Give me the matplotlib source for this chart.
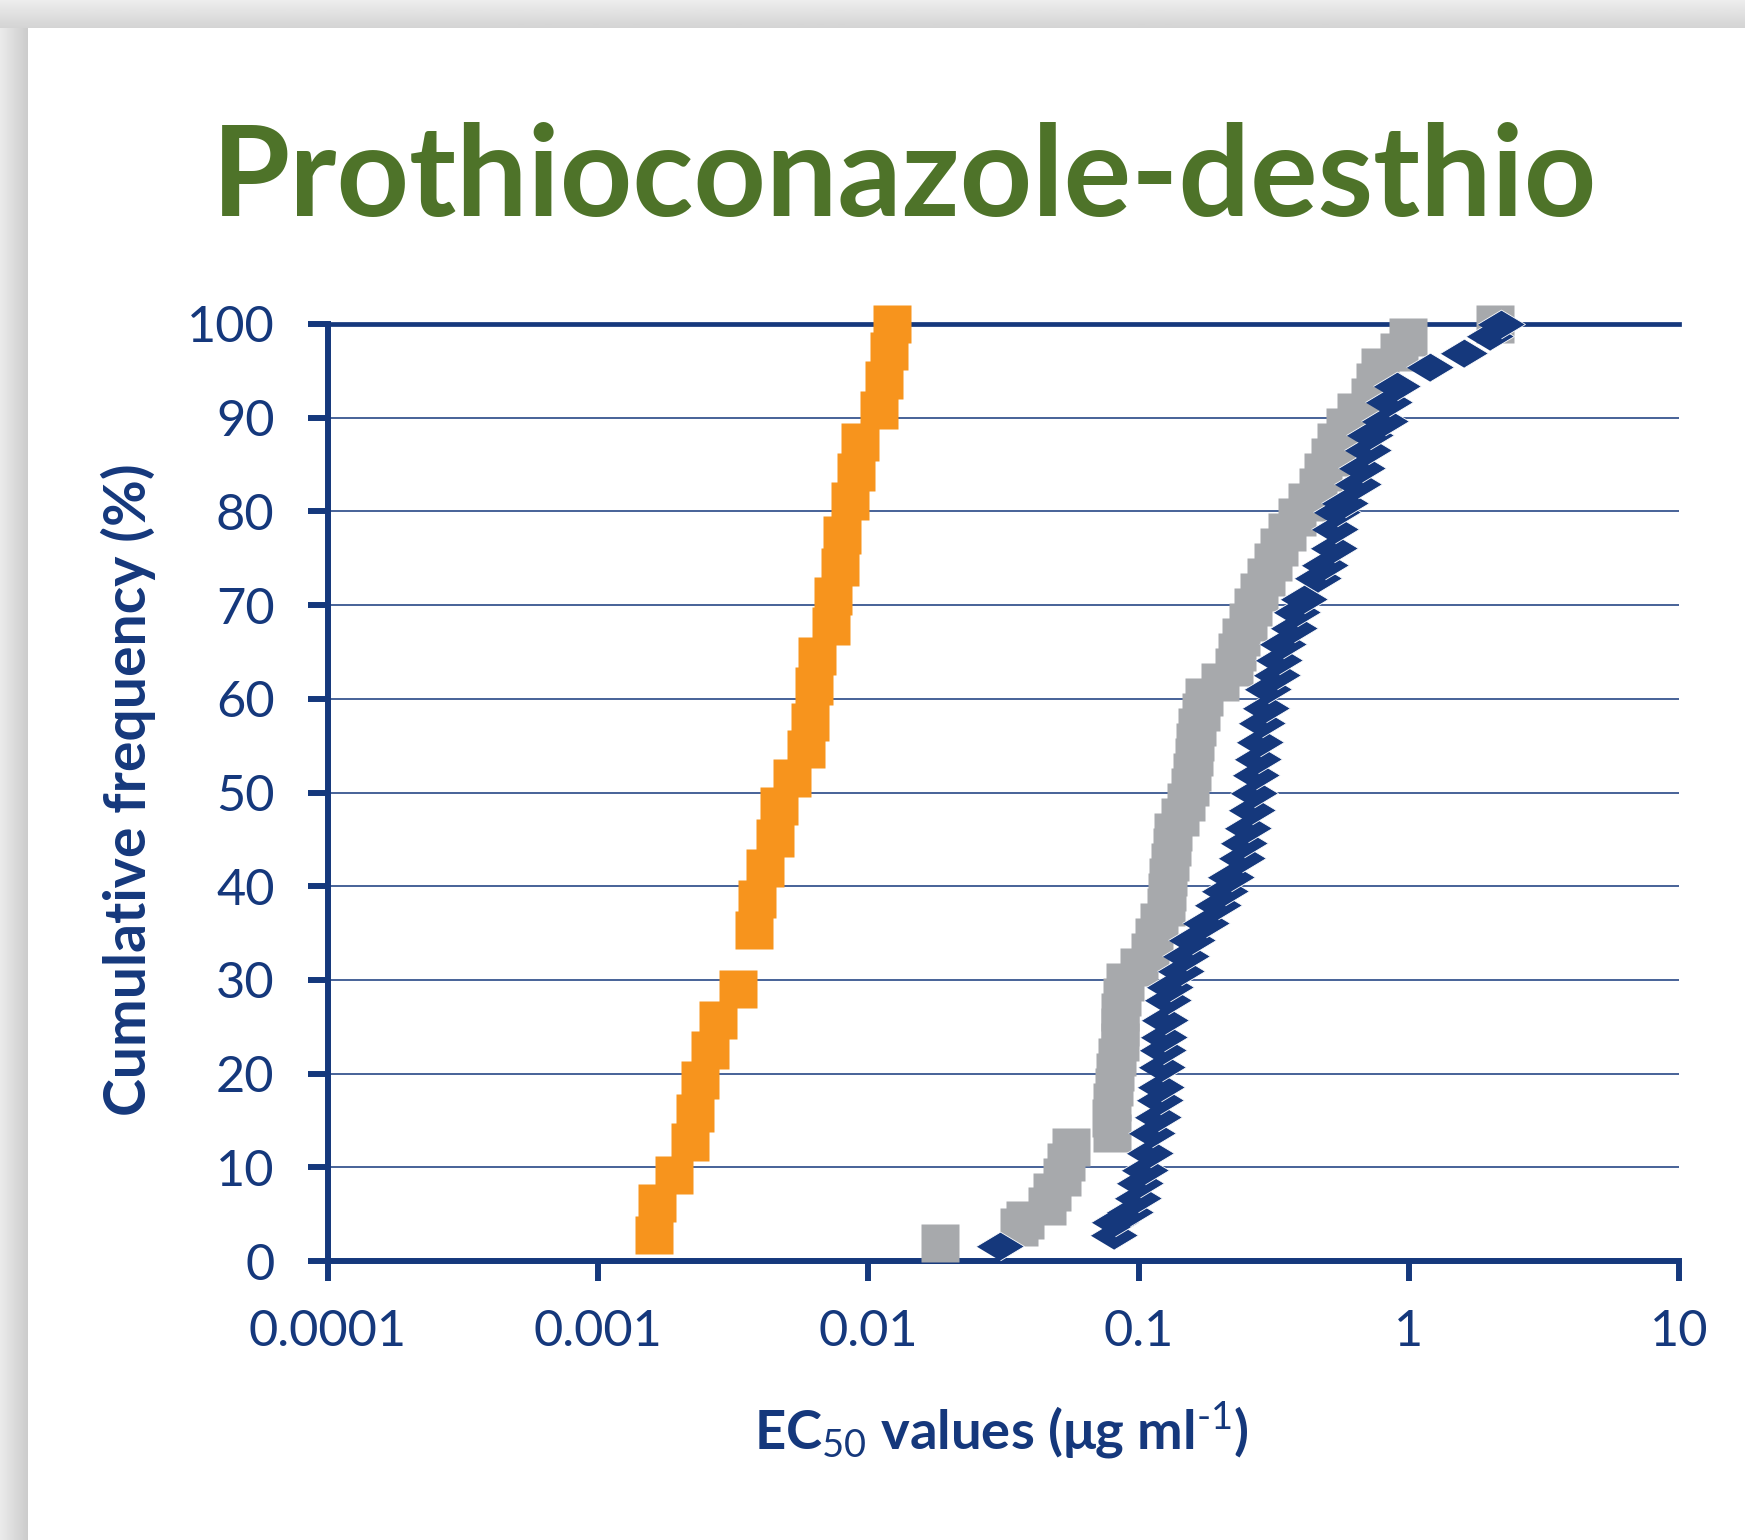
import numpy as np
import matplotlib
matplotlib.use("Agg")
import matplotlib.pyplot as plt
from matplotlib.ticker import NullLocator

# EC50 values (ug/ml), with cumulative frequency (%)
orange_ec50 = [0.00161, 0.00165, 0.00191, 0.00219, 0.00228, 0.00238, 0.00259, 0.00278,
               0.00329, 0.00377, 0.00387, 0.00414, 0.00451, 0.00467, 0.00521, 0.00588,
               0.00610, 0.00630, 0.00645, 0.00727, 0.00740, 0.00785, 0.00800, 0.00855,
               0.00900, 0.00930, 0.01090, 0.01140, 0.01190, 0.01220]
orange_freq = [2.8, 6.2, 9.2, 12.7, 15.8, 19.3, 22.5, 25.7, 29.0, 35.3, 38.6, 41.9, 45.1,
               48.6, 51.6, 54.6, 57.5, 61.4, 64.6, 67.8, 71.0, 74.1, 77.5, 81.1, 84.2,
               87.4, 90.8, 94.0, 97.1, 100]

grey_ec50 = [0.0184, 0.036, 0.038, 0.046, 0.048, 0.052, 0.054, 0.056, 0.080, 0.079, 0.080,
             0.081, 0.082, 0.083, 0.085, 0.085, 0.085, 0.087, 0.089, 0.100, 0.110, 0.114,
             0.119, 0.126, 0.127, 0.129, 0.131, 0.133, 0.134, 0.142, 0.150, 0.155, 0.158,
             0.160, 0.162, 0.165, 0.170, 0.174, 0.200, 0.225, 0.232, 0.240, 0.255, 0.265,
             0.280, 0.295, 0.315, 0.330, 0.355, 0.385, 0.42, 0.46, 0.48, 0.51, 0.54, 0.58,
             0.64, 0.72, 0.75, 0.78, 0.92, 0.99, 2.08]
grey_freq = [1.9, 3.6, 4.4, 5.9, 7.4, 9.0, 10.6, 12.2, 13.7, 15.3, 17.0, 18.6, 20.2, 21.8,
             23.4, 25.0, 26.6, 28.2, 29.8, 31.4, 33.0, 34.6, 36.2, 37.8, 39.4, 41.0, 42.6,
             44.2, 45.8, 47.4, 49.0, 50.6, 52.2, 53.8, 55.4, 57.0, 58.6, 60.2, 61.8, 63.4,
             65.0, 66.6, 68.2, 69.8, 71.4, 73.0, 74.6, 76.2, 77.8, 79.4, 81.0, 82.6, 84.2,
             85.8, 87.4, 89.0, 90.6, 92.2, 93.8, 95.4, 97.0, 98.6, 100]

navy_ec50 = [0.0307, 0.081, 0.082, 0.093, 0.0995, 0.101, 0.106, 0.110, 0.112, 0.118, 0.120,
             0.121, 0.1225, 0.123, 0.124, 0.125, 0.129, 0.131, 0.1435, 0.150, 0.158, 0.177,
             0.196, 0.209, 0.220, 0.241, 0.246, 0.254, 0.263, 0.267, 0.272, 0.277, 0.281,
             0.286, 0.297, 0.300, 0.325, 0.331, 0.342, 0.375, 0.385, 0.409, 0.461, 0.490,
             0.530, 0.535, 0.542, 0.580, 0.649, 0.671, 0.707, 0.718, 0.817, 0.845, 0.904,
             1.2, 1.6, 2.0, 2.2]
navy_freq = [1.6, 2.8, 4.2, 5.2, 6.7, 8.3, 9.7, 11.5, 13.7, 15.4, 17.2, 18.6, 20.7, 22.5,
             23.9, 25.7, 27.9, 29.2, 30.9, 32.5, 34.3, 36.1, 38.0, 39.5, 41.0, 43.0, 44.6,
             46.2, 48.1, 49.9, 51.9, 53.6, 55.4, 57.4, 59.0, 61.0, 62.5, 64.1, 65.8, 67.6,
             69.3, 70.6, 72.9, 74.3, 76.1, 78.1, 79.9, 80.9, 82.9, 84.6, 86.6, 88.2, 89.7,
             91.7, 93.4, 95.4, 96.9, 98.7, 100]

x_ticks = [0.0001, 0.001, 0.01, 0.1, 1, 10]
x_ticklabels = ["0.0001", "0.001", "0.01", "0.1", "1", "10"]
y_ticks = list(range(0, 101, 10))

navy = "#15387c"
green = "#4e7329"
orange = "#f7941d"
grey = "#a7a9ac"

plt.rcParams["font.family"] = ["Lato", "DejaVu Sans"]
plt.rcParams["mathtext.fontset"] = "custom"
plt.rcParams["mathtext.rm"] = "Lato"
plt.rcParams["mathtext.bf"] = "Lato:bold"
plt.rcParams["mathtext.it"] = "Lato:italic"

W, H = 1745, 1540
fig = plt.figure(figsize=(W / 100, H / 100), dpi=100)
fig.patch.set_facecolor("white")

# grey shadow strips along the top and left of the page
band = 28
ax_l = fig.add_axes([0, 0, band / W, 1])
ax_l.imshow(np.linspace(0.92, 0.80, 40)[None, :], cmap="gray", vmin=0, vmax=1, aspect="auto")
ax_l.axis("off")
ax_t = fig.add_axes([0, 1 - band / H, 1, band / H])
ax_t.imshow(np.linspace(0.93, 0.83, 40)[:, None], cmap="gray", vmin=0, vmax=1, aspect="auto")
ax_t.axis("off")

# plot area in pixels: x 328..1679, y 324..1261
ax = fig.add_axes([328 / W, 1 - 1261 / H, (1679 - 328) / W, (1261 - 324) / H])
ax.set_facecolor("none")
ax.set_xscale("log")
ax.set_xlim(1e-4, 10)
ax.set_ylim(0, 100)

ax.plot(grey_ec50, grey_freq, ls="none", marker="s", ms=27.5, mfc=grey, mec="none",
        clip_on=False, zorder=3)
flat_diamond = [(-1, 0), (0, 0.6), (1, 0), (0, -0.6)]
ax.plot(navy_ec50, navy_freq, ls="none", marker=flat_diamond, ms=34.5, mfc=navy,
        mec="white", mew=0.6, clip_on=False, zorder=4)
ax.plot(orange_ec50, orange_freq, ls="none", marker="s", ms=27.5, mfc=orange, mec="none",
        clip_on=False, zorder=5)

ax.set_xticks(x_ticks, x_ticklabels)
ax.xaxis.set_minor_locator(NullLocator())
ax.set_yticks(y_ticks)
ax.yaxis.grid(True, color=navy, lw=1.1)
ax.set_axisbelow(True)

for side in ["left", "bottom"]:
    ax.spines[side].set_linewidth(4.3)
    ax.spines[side].set_color(navy)
ax.spines["top"].set_linewidth(3.4)
ax.spines["top"].set_color(navy)
ax.spines["right"].set_visible(False)

ax.tick_params(direction="out", length=14.5, width=4.3, color=navy, labelcolor=navy,
               labelsize=37)
ax.tick_params(axis="x", pad=20)
ax.tick_params(axis="y", pad=24)

title = fig.text(905 / W, 1 - 216 / H, "Prothioconazole-desthio", color=green,
                 fontsize=88, fontweight="bold", ha="center", va="baseline")
ylab = fig.text(128 / W, 1 - 790 / H, "Cumulative frequency (%)", color=navy,
                fontsize=40, fontweight="bold", rotation=90, ha="center", va="center")
xlab = fig.text(1001 / W, 1 - 1450 / H, r"EC$_{50}$ values (μg ml$^{\text{-1}}$)",
                color=navy, fontsize=41, fontweight="bold", ha="center", va="baseline")

# scale texts so their widths match the original
fig.canvas.draw()
r = fig.canvas.get_renderer()
for t, target, use_h in [(title, 1386, False), (ylab, 651, True), (xlab, 495, False)]:
    bb = t.get_window_extent(r)
    size = bb.height if use_h else bb.width
    t.set_fontsize(t.get_fontsize() * target / size)
w0 = ax.get_xticklabels()[0].get_window_extent(r).width
ax.tick_params(labelsize=37 * 158 / w0)

fig.savefig("out.png", dpi=100)
